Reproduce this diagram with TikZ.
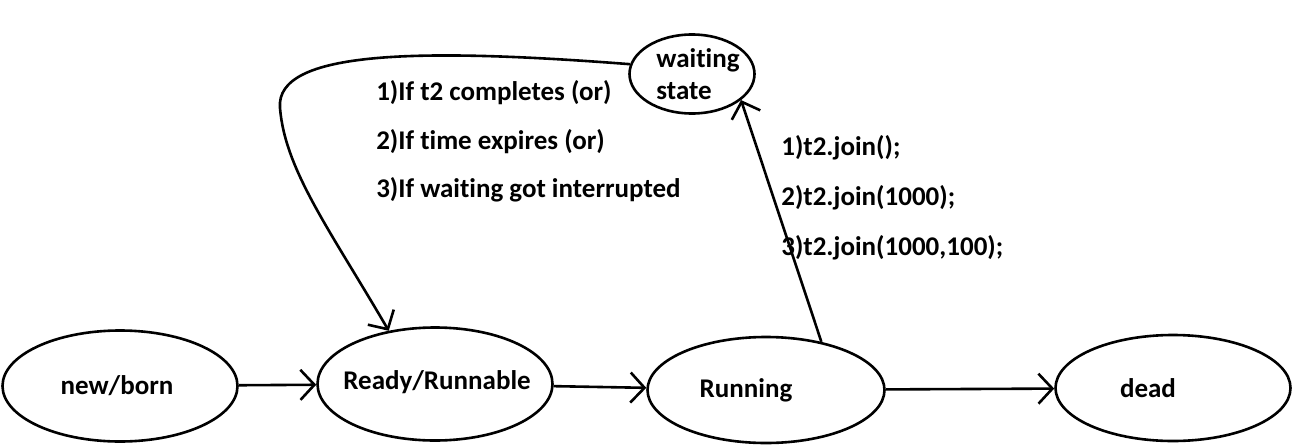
\documentclass[tikz,border=0pt]{standalone}
\usepackage{fontspec}
\setmainfont[Ligatures=NoCommon]{Carlito}
\usetikzlibrary{shapes.geometric, arrows.meta, positioning}

\begin{document}
\begin{tikzpicture}[x=1pt,y=-1pt,line width=2.6pt,
    font=\fontsize{27}{30}\selectfont\bfseries,
    state/.style={draw,ellipse,inner sep=0pt,minimum width=235pt,minimum height=111pt},
    note/.style={anchor=west,inner sep=0pt},
    arr/.style={-{Straight Barb[length=14pt,width=30pt]}}]
\useasboundingbox (0,0) rectangle (1292,447);
% states
\node[state,label={[xshift=-3pt]center:new/born}] (born) at (120,386) {};
\node[state,minimum height=113pt,
      label={[xshift=2pt,yshift=2pt]center:Ready/Runnable}] (ready) at (435,384) {};
\node[state,minimum width=237pt,minimum height=106pt,
      label={[xshift=-20pt]center:Running}] (run) at (766,390) {};
\node[state,minimum height=106pt,
      label={[xshift=-25pt]center:dead}] (dead) at (1173,388) {};
\node[state,minimum width=125pt,minimum height=79pt,
      label={[align=left,xshift=6pt]center:waiting\\[2pt]state}] (wait) at (692,74) {};
% conditions
\node[note] (cond1) at (375,93) {1)If t2 completes (or)};
\node[note] (cond2) at (375,142) {2)If time expires (or)};
\node[note] (cond3) at (375,190) {3)If waiting got interrupted};
\node[note] (join1) at (780,148) {1)t2.join();};
\node[note] (join2) at (780,198) {2)t2.join(1000);};
\node[note] (join3) at (780,248) {3)t2.join(1000,100);};
% transitions
\path[arr]
(born) edge (ready)
(ready) edge (run)
(run) edge (dead)
(run.41) edge (wait.-28);
\draw[arr] (wait.171) .. controls (420,48) and (275,50) .. (280,108)
    .. controls (285,170) and (330,230) .. (ready.131);
\end{tikzpicture}
\end{document}
